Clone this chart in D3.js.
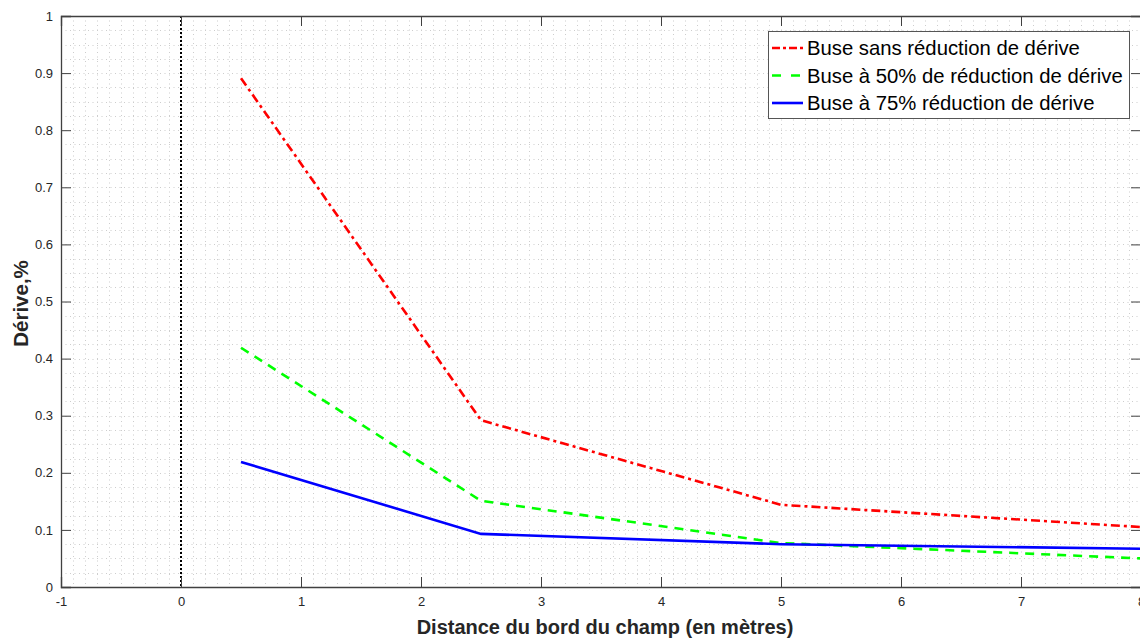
<!DOCTYPE html>
<html><head><meta charset="utf-8">
<script src="https://cdn.jsdelivr.net/npm/d3@7"></script>
<style>
body{margin:0;background:#fff;overflow:hidden}
svg{display:block;font-family:"Liberation Sans",Arial,sans-serif}
</style></head>
<body>
<script>
const distances = [0.5, 2.5, 5, 8];
const seriesNames = ["Buse sans réduction de dérive", "Buse à 50% de réduction de dérive", "Buse à 75% réduction de dérive"];
const sansReduction = [0.891, 0.292, 0.144, 0.105];
const reduction50 = [0.419, 0.151, 0.077, 0.050];
const reduction75 = [0.219, 0.093, 0.075, 0.067];
const xTicks = [-1, 0, 1, 2, 3, 4, 5, 6, 7, 8];
const yTicks = [0, 0.1, 0.2, 0.3, 0.4, 0.5, 0.6, 0.7, 0.8, 0.9, 1];
const xLabel = "Distance du bord du champ (en mètres)";
const yLabel = "Dérive,%";

(function(){
const W = 1140, H = 638;
const svg = d3.select("body").append("svg").attr("width", W).attr("height", H);
const x = d3.scaleLinear().domain([-1, 8]).range([61, 1141]);
const y = d3.scaleLinear().domain([0, 1]).range([587, 16]);
const x0 = x.range()[0], x1 = x.range()[1], y0 = y.range()[0], y1 = y.range()[1];

// minor grid
const g = svg.append("g");
const xMinor = d3.range(-1, 8.0001, 0.1);
const yMinor = d3.range(0, 1.0001, 0.025);
g.selectAll(".vx").data(xMinor).join("line")
  .attr("x1", d => Math.round(x(d)) + 0.5).attr("x2", d => Math.round(x(d)) + 0.5)
  .attr("y1", y1).attr("y2", y0)
  .attr("stroke", "#cdcdcd").attr("stroke-width", 1).attr("stroke-dasharray", "1,3.5");
g.selectAll(".hy").data(yMinor).join("line")
  .attr("y1", d => Math.round(y(d)) + 0.5).attr("y2", d => Math.round(y(d)) + 0.5)
  .attr("x1", x0).attr("x2", x1)
  .attr("stroke", "#cdcdcd").attr("stroke-width", 1).attr("stroke-dasharray", "1,3.5");

// vertical dotted line at x=0
svg.append("line").attr("x1", x(0)).attr("x2", x(0)).attr("y1", y1).attr("y2", y0)
  .attr("stroke", "#000").attr("stroke-width", 2).attr("stroke-dasharray", "2,2");

// axes
const axColor = "#404040";
const axB = svg.append("g").attr("transform", `translate(0,${y0})`)
  .call(d3.axisBottom(x).tickValues(xTicks).tickSize(-10).tickPadding(10).tickFormat(d => String(d)));
const axT = svg.append("g").attr("transform", `translate(0,${y1})`)
  .call(d3.axisTop(x).tickValues(xTicks).tickSize(-10).tickFormat(""));
const axL = svg.append("g").attr("transform", `translate(${x0},0)`)
  .call(d3.axisLeft(y).tickValues(yTicks).tickSize(-10).tickPadding(8).tickFormat(d => String(+d.toFixed(1))));
const axR = svg.append("g").attr("transform", `translate(${x1},0)`)
  .call(d3.axisRight(y).tickValues(yTicks).tickSize(-10).tickFormat(""));
[axB, axT, axL, axR].forEach(a => {
  a.selectAll("path").attr("stroke", axColor).attr("stroke-width", 1.3);
  a.selectAll("line").attr("stroke", axColor).attr("stroke-width", 1);
  a.selectAll("text").attr("fill", "#262626").style("font-size", "13px").style("font-family", "'Liberation Sans',Arial,sans-serif");
});

// lines
const line = d3.line().x((d, i) => x(distances[i])).y(d => y(d));
const styles = [
  {data: sansReduction, color: "#ff0000", dash: "9,4,3,4", legDash: "8,3,3,3"},
  {data: reduction50, color: "#00ff00", dash: "9,7", legDash: "9,10"},
  {data: reduction75, color: "#0000ff", dash: null, legDash: null}
];
styles.forEach(s => {
  svg.append("path").datum(s.data).attr("d", line).attr("fill", "none")
    .attr("stroke", s.color).attr("stroke-width", 2.6)
    .attr("stroke-dasharray", s.dash);
});

// legend
const lg = svg.append("g");
lg.append("rect").attr("x", 768.5).attr("y", 31.5).attr("width", 361).attr("height", 87)
  .attr("fill", "#fff").attr("stroke", "#555").attr("stroke-width", 1);
styles.forEach((s, i) => {
  const yy = 48 + i * 27.5;
  lg.append("line").attr("x1", 772).attr("x2", 803).attr("y1", yy).attr("y2", yy)
    .attr("stroke", s.color).attr("stroke-width", 2.6).attr("stroke-dasharray", s.legDash);
  lg.append("text").attr("x", 807).attr("y", yy).attr("dy", "0.36em")
    .style("font-size", "20.3px").attr("fill", "#000").text(seriesNames[i]);
});

// axis labels
svg.append("text").attr("x", 605).attr("y", 634).attr("text-anchor", "middle")
  .style("font-size", "20px").style("font-weight", "bold").attr("fill", "#262626").text(xLabel);
svg.append("text").attr("transform", `translate(28,${(y0 + y1) / 2 + 2}) rotate(-90)`).attr("text-anchor", "middle")
  .style("font-size", "20.5px").style("font-weight", "bold").attr("fill", "#262626").text(yLabel);
})();
</script>
</body></html>
